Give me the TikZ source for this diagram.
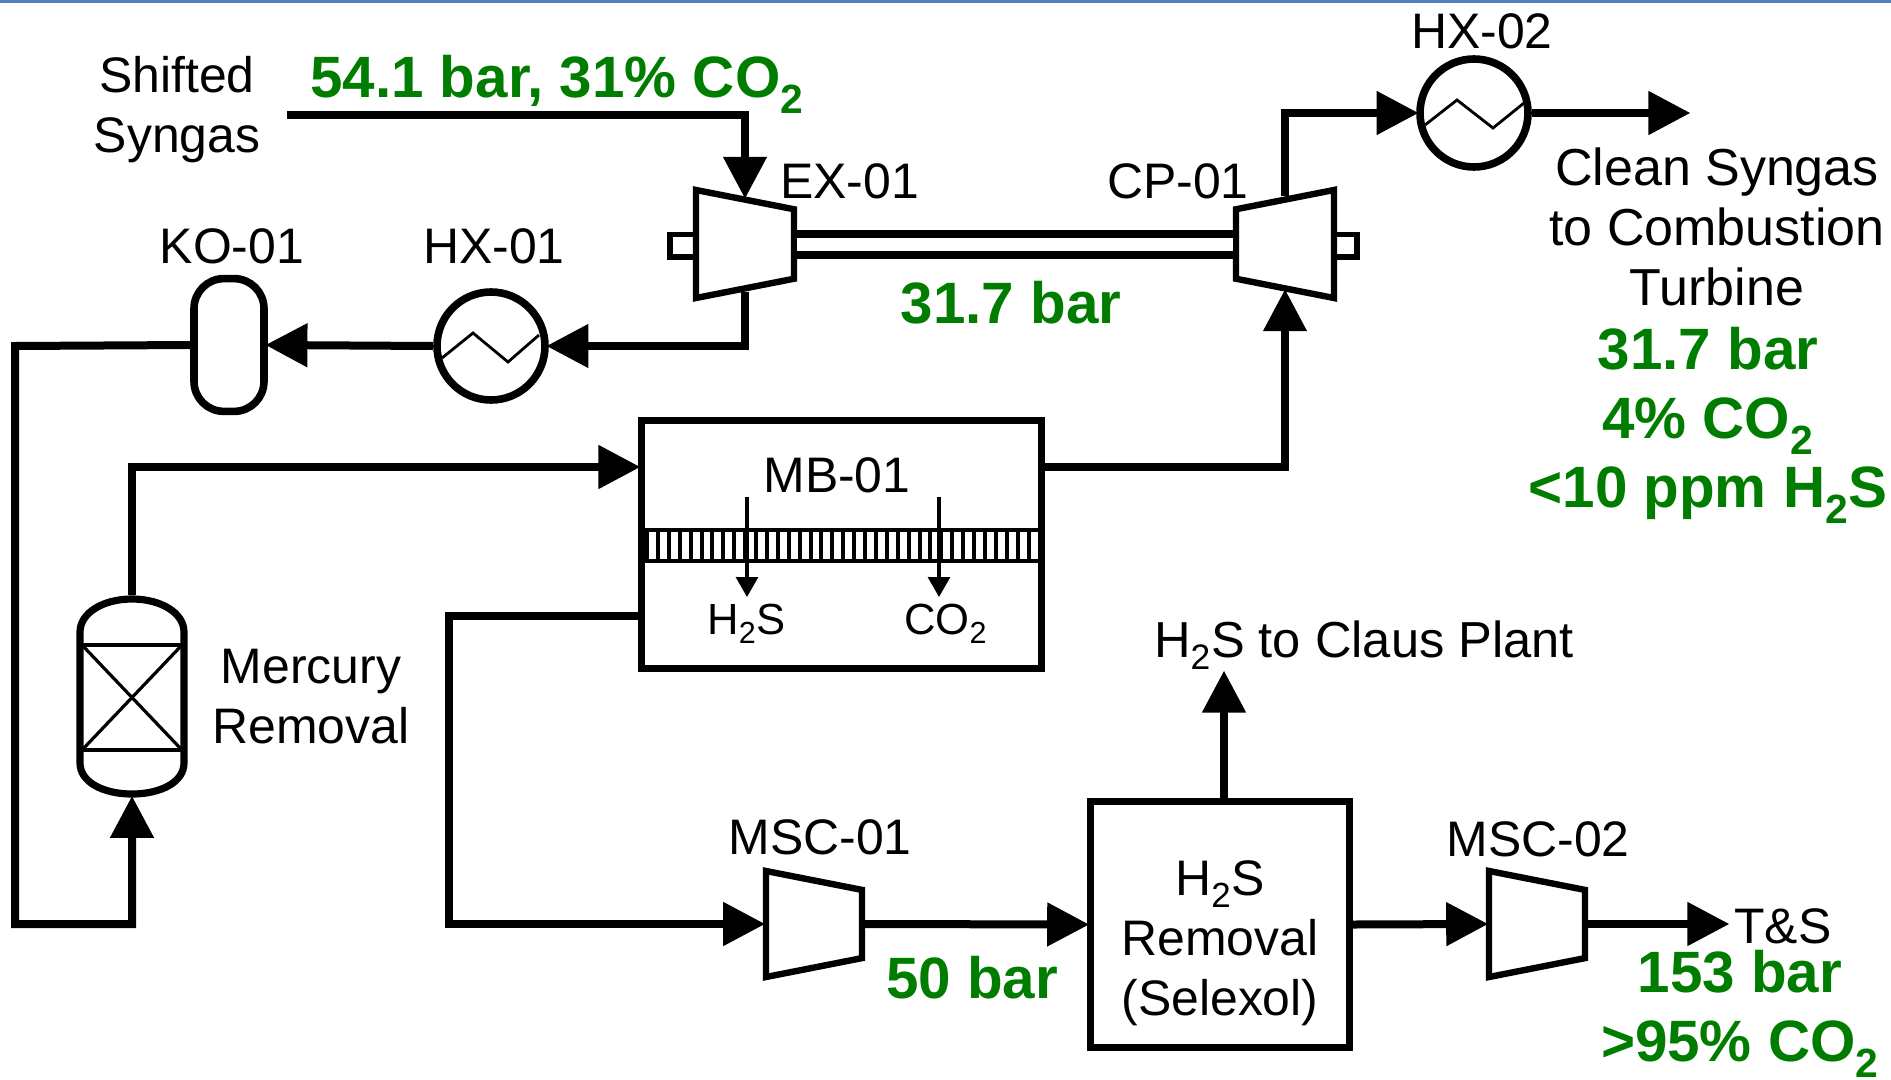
\documentclass[tikz,border=0pt]{standalone}
\usepackage{fontspec}
\setmainfont{Liberation Sans}
\usepackage{xcolor}
\usetikzlibrary{arrows.meta,shapes.geometric}
\definecolor{topblue}{HTML}{4F81BD}
\definecolor{spec}{HTML}{007D00}
\tikzset{
    tag/.style={font=\fontsize{35.5}{42.5}\selectfont,anchor=base,inner sep=0pt,align=center},
    cond/.style={font=\fontsize{41.5}{49}\selectfont\bfseries,text=spec,anchor=base,inner sep=0pt,align=center},
    flow/.style={line width=2mm,shorten >=-0.6mm,-{Triangle[length=10.5mm,width=10.5mm]}},
    pipe/.style={line width=2mm},
    perm/.style={line width=0.8mm,-{Triangle[length=5mm,width=5.5mm]}},
    hxer/.style={draw,circle,fill=white,minimum size=27mm,inner sep=0pt,line width=1.9mm},
    unitbox/.style={draw,rectangle,fill=white,inner sep=0pt,line width=1.9mm},
    stub/.style={draw,rectangle,fill=white,minimum width=7mm,minimum height=5.6mm,inner sep=0pt,line width=1.4mm},
    expander/.style={draw,trapezium,trapezium angle=74.5,trapezium stretches=true,fill=white,inner sep=2pt,line width=1.6mm,minimum width=27mm,minimum height=24.5mm},
}
\begin{document}
\begin{tikzpicture}[x=0.25mm,y=-0.25mm]
    \useasboundingbox (0,0) rectangle (1891,1079);
    \fill[topblue] (0,0) rectangle (1891,3);

    % equipment
    \node[stub] (exstub) at (684,245.5) {};
    \node[stub] (cpstub) at (1343,245.5) {};
    \node[expander,shape border rotate=270] (ex) at (745,244) {};
    \node[expander,shape border rotate=90] (cp) at (1285,244) {};
    \node[hxer] (hx1) at (491,346) {};
    \node[hxer] (hx2) at (1474,113) {};
    \node[unitbox,rounded corners=7.5mm,minimum width=17.5mm,minimum height=33.2mm] (ko) at (229,345) {};
    \node[unitbox,minimum width=100mm,minimum height=62mm] (mb) at (841.5,544.5) {};
    \node[unitbox,minimum width=64.7mm,minimum height=61.5mm] (sel) at (1220,924.5) {};
    \node[expander,shape border rotate=270,minimum width=26.5mm,minimum height=24mm] (msc1) at (814,924) {};
    \node[expander,shape border rotate=270,minimum width=26.5mm,minimum height=24mm] (msc2) at (1537,924) {};
    \node[inner sep=0pt,minimum width=28mm,minimum height=50.75mm] (hg) at (132,696.5) {};

    % zigzags in the exchangers
    \draw[line width=0.7mm] (442,358) -- (473,333) -- (508,362) -- (539,335);
    \draw[line width=0.7mm] (1425,125) -- (1457,100) -- (1493,128) -- (1524,103);

    % mercury vessel
    \draw[line width=1.8mm] (80,632) .. controls (80,613) and (103,599) .. (132,599)
        .. controls (161,599) and (184,613) .. (184,632) -- (184,763)
        .. controls (184,782) and (161,794) .. (132,794)
        .. controls (103,794) and (80,782) .. (80,763) -- cycle;
    \draw[line width=1mm] (80,645) -- (184,645);
    \draw[line width=1mm] (80,750) -- (184,750);
    \draw[line width=0.8mm] (82,645) -- (182,750);
    \draw[line width=0.8mm] (82,750) -- (182,645);

    % membrane
    \foreach \hx in {647,657.9,...,1038}
        \draw[line width=1mm] (\hx,530) -- (\hx,561);
    \draw[line width=1.1mm] (645,530) -- (1038,530);
    \draw[line width=1.1mm] (645,561) -- (1038,561);
    \coordinate (pa) at (747,497);
    \coordinate (pab) at (747,597);
    \coordinate (pc) at (939,497);
    \coordinate (pcb) at (939,597);
    \draw[perm] (pa) -- (pab);
    \draw[perm] (pc) -- (pcb);

    % streams
    \coordinate (feed) at (287,115);
    \coordinate (loopa) at (15,346);
    \coordinate (loopb) at (15,924);
    \coordinate (mbin) at (638,467);
    \coordinate (mbout) at (1045,467);
    \coordinate (mbrej) at (638,616);
    \coordinate (rejb) at (449,616);
    \coordinate (rejc) at (449,924);
    \coordinate (clean) at (1688,113);
    \coordinate (claus) at (1224,673);
    \coordinate (tands) at (1727,924);

    \draw[pipe,double,double distance=3.25mm] (ex.0) -- (cp.180);
    \draw[flow] (feed) -| (ex.90);
    \draw[flow] (ex.-90) |- (hx1.east);
    \draw[flow] (hx1.west) -- (ko.east);
    \draw[flow,line join=miter] (ko.west) -- (loopa) -- (loopb) -| (hg.south);
    \draw[flow] (hg.north) |- (mbin);
    \draw[flow] (mbout) -| (cp.-90);
    \draw[flow] (cp.90) |- (hx2.west);
    \draw[flow] (hx2.east) -- (clean);
    \draw[flow] (mbrej) -- (rejb) -- (rejc) -- (msc1.180);
    \draw[flow] (msc1.0) -- (sel.west);
    \draw[flow] (sel.north -| claus) -- (claus);
    \draw[flow] (sel.east) -- (msc2.180);
    \draw[flow] (msc2.0) -- (tands);

    % labels
    \node[tag] (syn) at (177,152) {Shifted\\Syngas};
    \node[tag,anchor=base west] (exl) at (780,198) {EX-01};
    \node[tag] (cpl) at (1178,198) {CP-01};
    \node[tag] (kol) at (232,263) {KO-01};
    \node[tag] (hx1l) at (494,263) {HX-01};
    \node[tag] (hx2l) at (1482,48) {HX-02};
    \node[tag,font=\fontsize{37}{42.5}\selectfont] (cleanl) at (1717,305) {Clean Syngas\\to Combustion\\Turbine};
    \node[tag] (hgl) at (311,743) {Mercury\\Removal};
    \node[tag] (mbl) at (837,492) {MB-01};
    \node[tag,anchor=base west,font=\fontsize{31}{38}\selectfont] (hsl) at (707,634) {H\textsubscript{2}S};
    \node[tag,anchor=base west,font=\fontsize{31}{38}\selectfont] (col) at (904,634) {CO\textsubscript{2}};
    \node[tag,font=\fontsize{36}{42.5}\selectfont] (clausl) at (1364,657) {H\textsubscript{2}S to Claus Plant};
    \node[tag] (msc1l) at (820,854) {MSC-01};
    \node[tag] (msc2l) at (1538,856) {MSC-02};
    \node[tag] (sell) at (1220,1015) {H\textsubscript{2}S\\Removal\\(Selexol)};
    \node[tag] (tsl) at (1783,943) {T\&S};

    \node[cond,anchor=base west] (c1) at (310,97) {54.1 bar, 31\% CO\textsubscript{2}};
    \node[cond] (c2) at (1011,323) {31.7 bar};
    \node[cond] (c3) at (1708,507) {31.7 bar\\4\% CO\textsubscript{2}\\<10 ppm H\textsubscript{2}S};
    \node[cond] (c4) at (972,998) {50 bar};
    \node[cond] (c5) at (1740,1061) {153 bar\\>95\% CO\textsubscript{2}};
\end{tikzpicture}
\end{document}
